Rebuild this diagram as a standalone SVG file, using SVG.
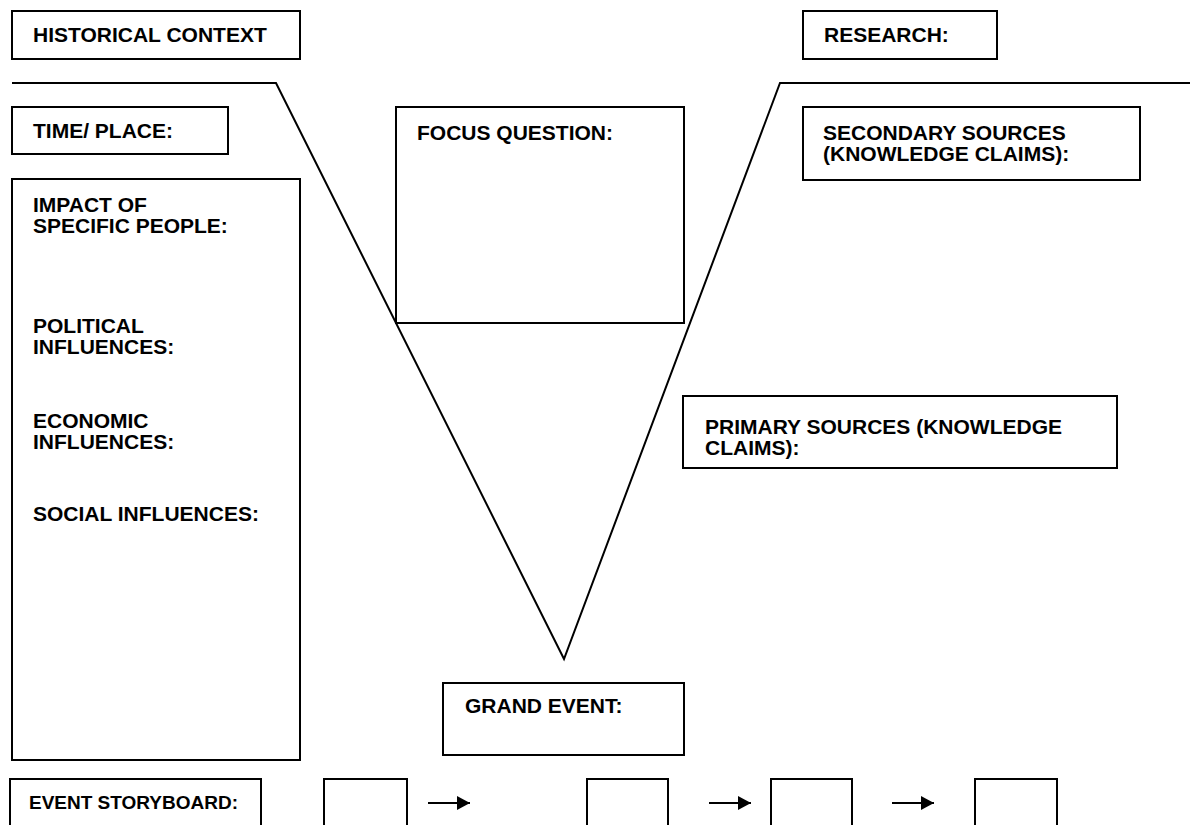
<svg xmlns="http://www.w3.org/2000/svg" width="1194" height="825" viewBox="0 0 1194 825">
<style>
.box{fill:#fff;stroke:#000;stroke-width:2}
.ln{fill:none;stroke:#000;stroke-width:2}
text{font-family:"Liberation Sans",Arial,sans-serif;font-weight:bold;font-size:21px;fill:#000}
text.sm{font-size:19px}
</style>
<defs>
<marker id="ah" markerWidth="13" markerHeight="14" refX="13" refY="7" orient="auto" markerUnits="userSpaceOnUse">
<path d="M0,0 L13,7 L0,14 Z" fill="#000"/>
</marker>
</defs>
<rect width="1194" height="825" fill="#fff"/>
<g id="connectors">
<polyline class="ln" points="12,83 276,83 564,659 780,83 1190,83"/>
<line class="ln" x1="428" y1="803" x2="470" y2="803" marker-end="url(#ah)"/>
<line class="ln" x1="709" y1="803" x2="751" y2="803" marker-end="url(#ah)"/>
<line class="ln" x1="892" y1="803" x2="934" y2="803" marker-end="url(#ah)"/>
</g>
<g id="historical-context"><rect class="box" x="12" y="11" width="288" height="48"/><text x="33" y="42">HISTORICAL CONTEXT</text></g>
<g id="research"><rect class="box" x="803" y="11" width="194" height="48"/><text x="824" y="42">RESEARCH:</text></g>
<g id="time-place"><rect class="box" x="12" y="107" width="216" height="47"/><text x="33" y="138">TIME/ PLACE:</text></g>
<g id="focus-question"><rect class="box" x="396" y="107" width="288" height="216"/><text x="417" y="140">FOCUS QUESTION:</text></g>
<g id="secondary-sources"><rect class="box" x="803" y="107" width="337" height="73"/><text x="823" y="140">SECONDARY SOURCES</text><text x="823" y="161">(KNOWLEDGE CLAIMS):</text></g>
<g id="context-details"><rect class="box" x="12" y="179" width="288" height="581"/>
<text x="33" y="212">IMPACT OF</text><text x="33" y="233">SPECIFIC PEOPLE:</text>
<text x="33" y="333">POLITICAL</text><text x="33" y="354">INFLUENCES:</text>
<text x="33" y="428">ECONOMIC</text><text x="33" y="449">INFLUENCES:</text>
<text x="33" y="521">SOCIAL INFLUENCES:</text></g>
<g id="primary-sources"><rect class="box" x="683" y="396" width="434" height="72"/><text x="705" y="434">PRIMARY SOURCES (KNOWLEDGE</text><text x="705" y="455">CLAIMS):</text></g>
<g id="grand-event"><rect class="box" x="443" y="683" width="241" height="72"/><text x="465" y="713">GRAND EVENT:</text></g>
<g id="event-storyboard"><rect class="box" x="10" y="779" width="251" height="60"/><text class="sm" x="29" y="809">EVENT STORYBOARD:</text></g>
<g id="story-1"><rect class="box" x="324" y="779" width="83" height="60"/></g>
<g id="story-2"><rect class="box" x="587" y="779" width="81" height="60"/></g>
<g id="story-3"><rect class="box" x="771" y="779" width="81" height="60"/></g>
<g id="story-4"><rect class="box" x="975" y="779" width="82" height="60"/></g>
</svg>
